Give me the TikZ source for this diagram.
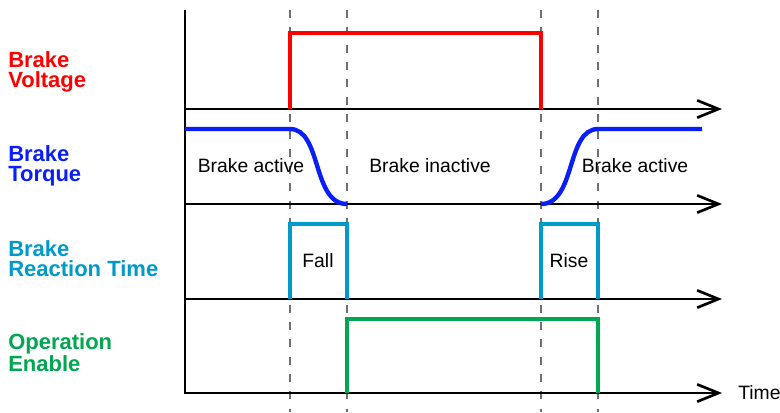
\documentclass[tikz,border=0pt]{standalone}
\usepackage{fontspec}
\setmainfont{Liberation Sans}
\usetikzlibrary{arrows.meta}
\definecolor{cvolt}{RGB}{255,0,0}
\definecolor{ctorq}{RGB}{10,30,250}
\definecolor{creact}{RGB}{0,153,204}
\definecolor{cenab}{RGB}{0,166,80}
\definecolor{cdash}{RGB}{110,110,110}
\tikzset{
  axisline/.style={line width=2pt,black},
  axisarrow/.style={axisline,-{Straight Barb[length=16pt,width=13pt,line width=2pt]}},
  sig/.style={line width=3.3pt,line join=miter},
  guide/.style={cdash,line width=1.1pt,dash pattern=on 6pt off 7pt},
  lab/.style={anchor=base west,align=left,inner sep=0pt,font=\fontsize{16.5}{15}\selectfont\bfseries},
  txt/.style={anchor=base,inner sep=0pt,font=\fontsize{14.5}{17}\selectfont}
}
\begin{document}
\begin{tikzpicture}[x=0.75pt,y=-0.75pt]
\useasboundingbox (0,0) rectangle (780,412);
% guides
\foreach \n/\x in {g1/290,g2/347,g3/541,g4/598}{
  \coordinate (\n t) at (\x,10);
  \coordinate (\n b) at (\x,412);
  \draw[guide] (\n t) -- (\n b);
}
% axes
\coordinate (otop) at (185,10);
\coordinate (obot) at (185,393);
\draw[axisline] (otop) -- (obot);
\foreach \n/\y in {av/109,at/204,ar/299,ae/393}{
  \coordinate (\n s) at (184,\y);
  \coordinate (\n e) at (722,\y);
  \draw[axisarrow] (\n s) -- (\n e);
}
% brake voltage
\coordinate (v1) at (290,109);
\coordinate (v2) at (290,33);
\coordinate (v3) at (541,33);
\coordinate (v4) at (541,109);
\draw[sig,cvolt] (v1) -- (v2) -- (v3) -- (v4);
% brake torque
\coordinate (t0) at (185,129);
\coordinate (t1) at (290,129);
\coordinate (t2) at (347,204);
\coordinate (t3) at (541,204);
\coordinate (t4) at (598,129);
\coordinate (t5) at (702,129);
\draw[sig,ctorq] (t0) -- (t1) .. controls (322,129) and (312,204) .. (t2);
\draw[sig,ctorq] (t3) .. controls (576,204) and (566,129) .. (t4) -- (t5);
% reaction time
\coordinate (r1) at (290,299);
\coordinate (r2) at (290,224);
\coordinate (r3) at (347,224);
\coordinate (r4) at (347,299);
\draw[sig,creact] (r1) -- (r2) -- (r3) -- (r4);
\coordinate (r5) at (541,299);
\coordinate (r6) at (541,224);
\coordinate (r7) at (598,224);
\coordinate (r8) at (598,299);
\draw[sig,creact] (r5) -- (r6) -- (r7) -- (r8);
% operation enable
\coordinate (e1) at (347,393);
\coordinate (e2) at (347,319);
\coordinate (e3) at (598,319);
\coordinate (e4) at (598,393);
\draw[sig,cenab] (e1) -- (e2) -- (e3) -- (e4);
% labels (anchor = baseline of last line)
\node[lab,text=cvolt] (lv) at (8,87) {Brake\\Voltage};
\node[lab,text=ctorq] (lt) at (8,181) {Brake\\Torque};
\node[lab,text=creact] (lr) at (8,276) {Brake\\Reaction Time};
\node[lab,text=cenab] (le) at (8,371) {Operation\\Enable};
% texts
\node[txt] (ba1) at (251,172) {Brake active};
\node[txt] (bi) at (430,172) {Brake inactive};
\node[txt] (ba2) at (635,172) {Brake active};
\node[txt] (fall) at (318,267) {Fall};
\node[txt] (rise) at (569,267) {Rise};
\node[txt,anchor=base west] (time) at (738,399) {Time};
\end{tikzpicture}
\end{document}
